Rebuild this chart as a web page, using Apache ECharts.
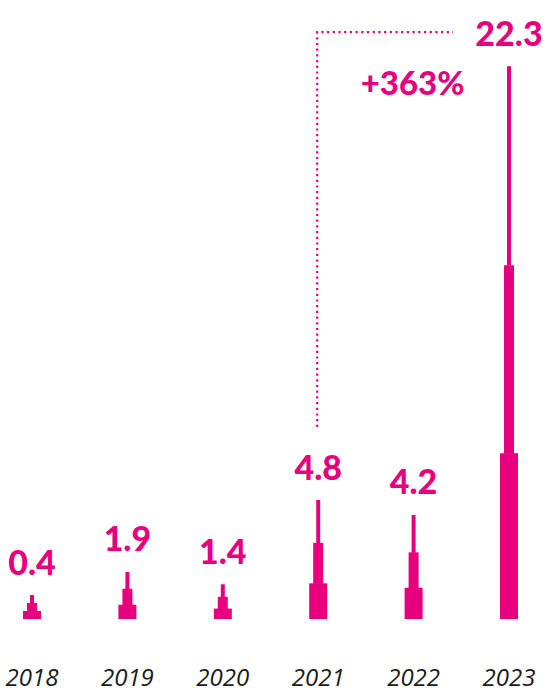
<!DOCTYPE html>
<html>
<head>
<meta charset="utf-8">
<script src="https://cdn.jsdelivr.net/npm/echarts@6/dist/echarts.min.js"></script>
<style>
html,body{margin:0;padding:0;background:#fff;}
#chart{width:544px;height:691px;}
</style>
</head>
<body>
<div id="chart"></div>
<script>
const years = ['2018', '2019', '2020', '2021', '2022', '2023'];
const values = [0.4, 1.9, 1.4, 4.8, 4.2, 22.3];
const growthFrom = 3;   // index of 2021
const growthTo = 5;     // index of 2023
const growthLabel = '+363%';

const PINK = '#E6007E';
const chart = echarts.init(document.getElementById('chart'), null, {renderer: 'svg'});

function renderBar(params, api) {
  const idx = api.value(0);
  const v = api.value(1);
  const base = api.coord([idx, 0]);
  const top = api.coord([idx, v]);
  const H = base[1] - top[1];
  const h1 = Math.max(H * 0.30, 8);
  const h2 = Math.max(H * 0.34, 8);
  const h3 = Math.max(H * 0.36, 8);
  const cx = base[0];
  const y1 = base[1] - h1;
  const y2 = y1 - h2;
  const y3 = y2 - h3;
  return {
    type: 'group',
    children: [
      {type: 'rect', shape: {x: cx - 9, y: y1, width: 18, height: h1}, style: {fill: PINK}},
      {type: 'rect', shape: {x: cx - 5, y: y2, width: 10, height: h2 + 0.5}, style: {fill: PINK}},
      {type: 'rect', shape: {x: cx - 2, y: y3, width: 4, height: h3 + 0.5}, style: {fill: PINK}},
      {type: 'text', style: {
        text: String(v), x: cx, y: y3 - 34, align: 'center', verticalAlign: 'middle',
        fill: PINK, fontFamily: 'Lato', fontWeight: 900, fontSize: 34
      }}
    ]
  };
}

function renderGrowth(params, api) {
  const from = api.coord([api.value(0), api.value(1)]);
  const to = api.coord([api.value(2), api.value(3)]);
  const mid = api.coord([4, api.value(3)]);
  const x0 = from[0] - 1;
  const yStart = from[1] - 73;
  const yTop = to[1] - 34;
  const xEnd = to[0] - 56;
  const lineStyle = {stroke: PINK, lineWidth: 2.2, lineDash: [2.2, 3.5], fill: null};
  return {
    type: 'group',
    children: [
      {type: 'polyline', shape: {points: [[x0, yStart], [x0, yTop], [xEnd, yTop]]}, style: lineStyle},
      {type: 'text', style: {
        text: growthLabel, x: mid[0] - 1, y: to[1] + 16, align: 'center', verticalAlign: 'middle',
        fill: PINK, fontFamily: 'Lato', fontWeight: 900, fontSize: 33
      }}
    ]
  };
}

chart.setOption({
  animation: false,
  backgroundColor: '#fff',
  grid: {left: 32, right: 35, top: 24, bottom: 72},
  xAxis: {
    type: 'category',
    data: years,
    boundaryGap: false,
    axisLine: {show: false},
    axisTick: {show: false},
    axisLabel: {
      margin: 45,
      fontFamily: 'Open Sans',
      fontStyle: 'italic',
      fontSize: 24,
      lineHeight: 24,
      color: '#1a1a1a'
    }
  },
  yAxis: {
    type: 'value',
    min: 0,
    max: 24,
    show: false,
    splitLine: {show: false}
  },
  series: [
    {
      type: 'custom',
      renderItem: renderBar,
      data: values.map((v, i) => [i, v]),
      clip: false
    },
    {
      type: 'custom',
      renderItem: renderGrowth,
      data: [[growthFrom, values[growthFrom], growthTo, values[growthTo]]],
      clip: false
    }
  ]
});
</script>
</body>
</html>
